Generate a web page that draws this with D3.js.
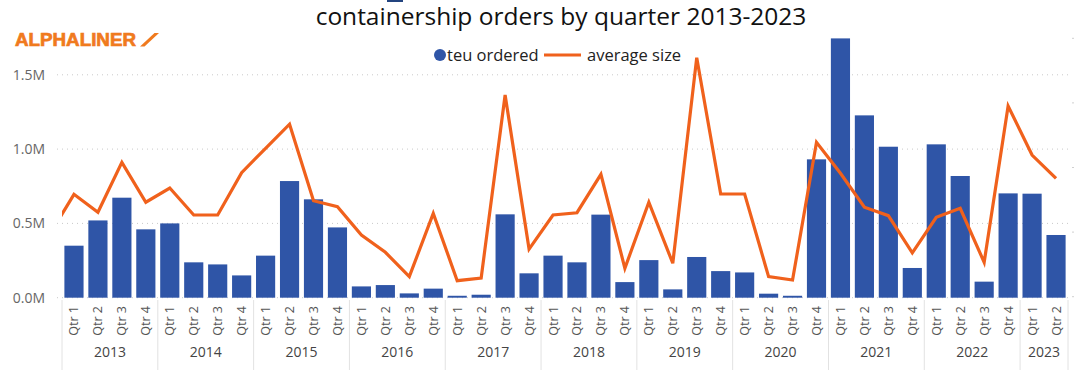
<!DOCTYPE html>
<html lang="en">
<head>
    <meta charset="utf-8">
    <title>Containership orders</title>
    <style>
        body {
            margin: 0;
            background: #fff;
        }
        svg {
            display: block;
            font-family: "Open Sans", "Noto Sans", sans-serif;
        }
        .grid line {
            stroke: #c9c9c9;
            stroke-dasharray: 1, 4;
        }
        .ylab {
            fill: #666;
            font-size: 14px;
        }
        .qlab {
            fill: #555;
            font-size: 12.5px;
        }
        .yearlab {
            fill: #444;
            font-size: 14px;
        }
        .sep {
            stroke: #e2e2e2;
        }
    </style>
</head>
<body>

<svg width="1078" height="372"></svg>

<script src="https://d3js.org/d3.v7.min.js"></script>
<script>

    // ---- data ----
    const years = ["2013", "2014", "2015", "2016", "2017", "2018", "2019", "2020", "2021", "2022", "2023"];
    const quarters = ["Qtr 1", "Qtr 2", "Qtr 3", "Qtr 4"];

    // teu ordered per quarter, thousand TEU
    const teuOrdered = [
        350, 520, 673, 460,
        500, 238, 224, 150,
        283, 785, 662, 473,
        76, 85, 29, 61,
        13, 20, 561, 164,
        283, 238, 559, 105,
        253, 56, 274, 179,
        170, 27, 13, 931,
        1745, 1227, 1016, 200,
        1032, 819, 108, 702,
        700, 422
    ];

    // average ship size per quarter, TEU (secondary, hidden axis)
    const avgSize = [
        6340, 5230, 8320, 5850,
        6730, 5060, 5060, 7680,
        9190, 10680, 5940, 5570,
        3820, 2750, 1240, 5160,
        990, 1160, 12490, 2950,
        5060, 5200, 7580, 1760,
        5850, 2070, 14800, 6360,
        6360, 1240, 1030, 9560,
        7640, 5540, 5020, 2720,
        4920, 5470, 2130, 11810,
        8770, 7330
    ];
    const avgSizePrev = 3880; // 2012 Qtr 4, only the clipped lead-in of the line shows

    const yTicks = [0, 500000, 1000000, 1500000];
    const y2Ticks = [0, 4000, 8000, 12000, 16000];

    const barColor = "#2F55A7";
    const lineColor = "#F0611C";
    const logoColor = "#F07A1E";

    // periods: year x quarter, stop at 2023 Qtr 2
    const periods = d3.cross(years, quarters)
        .slice(0, teuOrdered.length)
        .map(([yr, q]) => ({key: yr + " " + q, year: yr, q: q}));
    periods.forEach((p, i) => {
        p.teu = teuOrdered[i] * 1000;
        p.avg = avgSize[i];
    });

    const svg = d3.select("svg");

    const x = d3.scaleBand()
        .domain(periods.map(d => d.key))
        .range([62, 1068])
        .paddingInner(0.2)
        .paddingOuter(0.1);

    const y = d3.scaleLinear()
        .domain([0, 1750000])
        .range([297.7, 297.7 - 1.75 * 148.6]);

    const y2 = d3.scaleLinear()
        .domain([0, 16000])
        .range([296.7, 38.3]);

    // small blue mark at the top edge
    svg.append("rect")
        .attr("x", 387).attr("y", 0)
        .attr("width", 16).attr("height", 2)
        .attr("fill", "#23447f");

    // title
    svg.append("text")
        .attr("x", 561)
        .attr("y", 25)
        .attr("text-anchor", "middle")
        .attr("font-size", 24.5)
        .attr("fill", "#111")
        .text("containership orders by quarter 2013-2023");

    // logo
    svg.append("text")
        .attr("x", 15)
        .attr("y", 46)
        .attr("font-family", "Liberation Sans, Arial, sans-serif")
        .attr("font-weight", "bold")
        .attr("font-size", 18)
        .attr("fill", logoColor)
        .attr("stroke", logoColor)
        .attr("stroke-width", 0.7)
        .attr("textLength", 121)
        .attr("lengthAdjust", "spacingAndGlyphs")
        .text("ALPHALINER");
    svg.append("polygon")
        .attr("points", "140,46.5 144.5,46.5 159,33 154.5,33")
        .attr("fill", logoColor);

    // legend
    const legend = svg.append("g").attr("font-size", 16.5).attr("fill", "#222");
    legend.append("circle")
        .attr("cx", 440).attr("cy", 55).attr("r", 6)
        .attr("fill", barColor);
    legend.append("text")
        .attr("x", 447).attr("y", 60.5)
        .text("teu ordered");
    legend.append("line")
        .attr("x1", 544).attr("x2", 581)
        .attr("y1", 55).attr("y2", 55)
        .attr("stroke", lineColor)
        .attr("stroke-width", 3);
    legend.append("text")
        .attr("x", 587).attr("y", 60.5)
        .text("average size");

    // gridlines
    svg.append("g")
        .attr("class", "grid")
        .selectAll("line")
        .data(yTicks)
        .join("line")
        .attr("x1", 57).attr("x2", 1068)
        .attr("y1", d => y(d)).attr("y2", d => y(d));

    // hidden secondary axis: only tick dots at the right edge
    svg.append("g")
        .selectAll("line")
        .data(y2Ticks)
        .join("line")
        .attr("x1", 1072).attr("x2", 1074)
        .attr("y1", d => y2(d)).attr("y2", d => y2(d))
        .attr("stroke", "#d0d0d0");

    // y axis labels
    svg.append("g")
        .selectAll("text")
        .data(yTicks)
        .join("text")
        .attr("class", "ylab")
        .attr("x", 45)
        .attr("y", d => y(d))
        .attr("dy", "0.35em")
        .attr("text-anchor", "end")
        .text(d => d3.format(".1f")(d / 1e6) + "M");

    // bars
    svg.append("g")
        .selectAll("rect")
        .data(periods)
        .join("rect")
        .attr("x", d => x(d.key))
        .attr("width", x.bandwidth())
        .attr("y", d => y(d.teu))
        .attr("height", d => y(0) - y(d.teu))
        .attr("fill", barColor);

    // line (with clipped lead-in from the previous quarter)
    const step = x.step();
    const linePts = [{cx: x(periods[0].key) + x.bandwidth() / 2 - step, v: avgSizePrev}]
        .concat(periods.map(d => ({cx: x(d.key) + x.bandwidth() / 2, v: d.avg})));

    svg.append("clipPath")
        .attr("id", "plotclip")
        .append("rect")
        .attr("x", 62).attr("y", 0)
        .attr("width", 1010).attr("height", 372);

    svg.append("path")
        .datum(linePts)
        .attr("clip-path", "url(#plotclip)")
        .attr("fill", "none")
        .attr("stroke", lineColor)
        .attr("stroke-width", 3.2)
        .attr("stroke-linejoin", "miter")
        .attr("d", d3.line().x(d => d.cx).y(d => y2(d.v)));

    // x axis: quarter labels
    svg.append("g")
        .selectAll("text")
        .data(periods)
        .join("text")
        .attr("class", "qlab")
        .attr("text-anchor", "end")
        .attr("transform", d => `translate(${x(d.key) + x.bandwidth() / 2 + 4.5},306) rotate(-90)`)
        .text(d => d.q);

    // x axis: year groups
    const groups = d3.groups(periods, d => d.year).map(([yr, ps]) => ({
        year: yr,
        x0: x(ps[0].key) - step * x.paddingInner() / 2,
        x1: x(ps[ps.length - 1].key) + x.bandwidth() + step * x.paddingInner() / 2
    }));

    svg.append("g")
        .selectAll("line")
        .data(groups.map(g => g.x0).concat([groups[groups.length - 1].x1]))
        .join("line")
        .attr("class", "sep")
        .attr("x1", d => d).attr("x2", d => d)
        .attr("y1", 300).attr("y2", 370);

    svg.append("g")
        .selectAll("text")
        .data(groups)
        .join("text")
        .attr("class", "yearlab")
        .attr("x", d => (d.x0 + d.x1) / 2)
        .attr("y", 357)
        .attr("text-anchor", "middle")
        .text(d => d.year);

</script>

</body>
</html>
